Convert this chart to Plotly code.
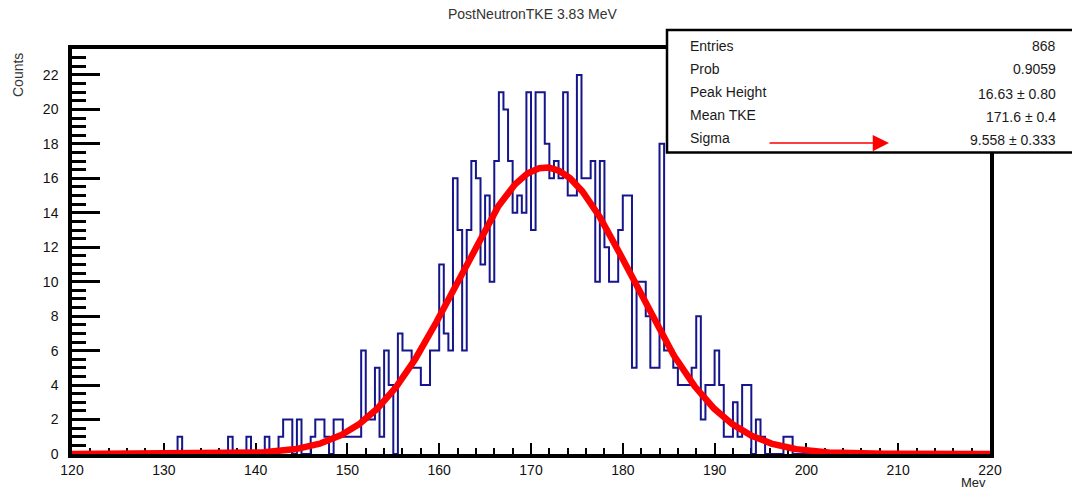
import numpy as np
import plotly.graph_objects as go

# ---------------- data ----------------
x_min, x_max = 120.0, 220.0
bin_width = 0.5
first_bin = 131.5  # left edge of first listed bin; all other bins are empty
counts = [
    1, 0, 0, 0, 0, 0, 0, 0, 0, 0,
    0, 1, 0, 0, 0, 1, 0, 0, 0, 1,
    0, 0, 1, 2, 2, 0, 2, 0, 0, 1,
    2, 2, 1, 0, 2, 2, 1, 1, 1, 1,
    6, 2, 2, 5, 1, 6, 4, 0, 7, 6,
    6, 5, 5, 4, 4, 6, 6, 11, 7, 6,
    16, 13, 6, 13, 17, 16, 11, 15, 10, 17,
    21, 20, 17, 14, 15, 14, 21, 13, 21, 21,
    18, 16, 17, 16, 21, 15, 15, 22, 16, 16,
    17, 10, 17, 12, 10, 10, 13, 15, 15, 5,
    10, 10, 8, 5, 5, 18, 6, 6, 5, 4,
    4, 4, 5, 8, 2, 4, 4, 6, 4, 1,
    1, 3, 1, 4, 4, 0, 2, 1, 0, 0,
    0, 0, 1, 1,
]
entries = 868
prob = 0.9059
peak_height, peak_height_err = 16.63, 0.80
mean_tke, mean_tke_err = 171.6, 0.4
sigma, sigma_err = 9.558, 0.333

title_text = "PostNeutronTKE 3.83 MeV"
stat_labels = ["Entries", "Prob", "Peak Height", "Mean TKE", "Sigma"]
stat_values = [
    f"{entries}",
    f"{prob:.4f}",
    f"{peak_height:.2f} \u00b1 {peak_height_err:.2f}",
    f"{mean_tke:.1f} \u00b1 {mean_tke_err:.1f}",
    f"{sigma:.3f} \u00b1 {sigma_err:.3f}",
]
x_ticks = list(range(120, 221, 10))
y_ticks = list(range(0, 23, 2))

# ---------------- build ----------------
nbins = int(round((x_max - x_min) / bin_width))
full = np.zeros(nbins)
i0 = int(round((first_bin - x_min) / bin_width))
full[i0:i0 + len(counts)] = counts
edges = x_min + bin_width * np.arange(nbins + 1)
ys = np.append(full, full[-1])

xf = np.linspace(x_min, x_max, 1001)
yf = peak_height * np.exp(-0.5 * ((xf - mean_tke) / sigma) ** 2)

W, H = 1072, 489
ML, MR, MT, MB = 72, 82, 49, 35
PW, PH = W - ML - MR, H - MT - MB


def px(xp):
    return (xp - ML) / PW


def py(yp):
    return (H - MB - yp) / PH


fig = go.Figure()
fig.add_trace(go.Scatter(x=edges, y=ys, mode="lines", line_shape="hv",
                         line=dict(color="#16168c", width=2), hoverinfo="skip"))
fig.add_trace(go.Scatter(x=xf, y=yf, mode="lines",
                         line=dict(color="#ff0000", width=6.5), hoverinfo="skip"))

tickfont = dict(family="Liberation Sans Narrow, Liberation Sans, Arial", size=14, color="#111111")

fig.update_layout(
    width=W, height=H,
    margin=dict(l=ML, r=MR, t=MT, b=MB, pad=0),
    paper_bgcolor="white", plot_bgcolor="white",
    showlegend=False,
    xaxis=dict(range=[x_min, x_max], tickvals=x_ticks, ticks="inside", ticklen=11,
               tickwidth=2, tickcolor="black", showgrid=False, zeroline=False,
               showline=True, linewidth=3.5, linecolor="black", mirror=True,
               layer="below traces", tickfont=tickfont,
               minor=dict(dtick=2, ticks="inside", ticklen=6, tickwidth=2, tickcolor="black", showgrid=False)),
    yaxis=dict(range=[0, PH / 17.23], tickvals=y_ticks, ticks="inside", ticklen=28,
               tickwidth=3, tickcolor="black", showgrid=False, zeroline=False,
               showline=True, linewidth=3.5, linecolor="black", mirror=True,
               layer="below traces", tickfont=tickfont, ticklabelstandoff=7,
               minor=dict(dtick=0.5, ticks="inside", ticklen=14, tickwidth=3, tickcolor="black", showgrid=False)),
)

# stats box
fig.add_shape(type="rect", xref="paper", yref="paper",
              x0=px(667), x1=px(1080), y0=py(152.5), y1=py(30),
              line=dict(color="black", width=2.5), fillcolor="white", layer="above")

label_y = [46, 69, 92, 115, 138]
value_y = [46, 69, 94, 117, 140]
sfont = dict(family="Liberation Sans, Arial", size=14, color="#1a1a1a")
for lab, val, ly, vy in zip(stat_labels, stat_values, label_y, value_y):
    fig.add_annotation(x=px(688), y=py(ly), xref="paper", yref="paper", text=lab,
                       showarrow=False, xanchor="left", yanchor="middle", font=sfont)
    fig.add_annotation(x=px(1058), y=py(vy), xref="paper", yref="paper", text=val,
                       showarrow=False, xanchor="right", yanchor="middle", font=sfont)

# red arrow in stats box
fig.add_annotation(x=px(889), y=py(143), xref="paper", yref="paper", text="",
                   showarrow=True, ax=-121, ay=0, arrowhead=2, arrowsize=2.5,
                   arrowwidth=1.3, arrowcolor="#ff0000")

# title and axis titles
fig.add_annotation(x=px(533), y=py(14), xref="paper", yref="paper", text=title_text,
                   showarrow=False, xanchor="center", yanchor="middle",
                   font=dict(family="Liberation Sans, Arial", size=14, color="#333333"))
fig.add_annotation(x=px(18), y=py(75), xref="paper", yref="paper", text="Counts",
                   showarrow=False, textangle=-90, xanchor="center", yanchor="middle",
                   font=dict(family="Liberation Sans, Arial", size=14, color="#333333"))
fig.add_annotation(x=px(988), y=py(482), xref="paper", yref="paper", text="Mev",
                   showarrow=False, xanchor="right", yanchor="middle",
                   font=dict(family="Liberation Sans Narrow, Liberation Sans, Arial", size=13, color="#222222"))

fig.write_html("out.html")
